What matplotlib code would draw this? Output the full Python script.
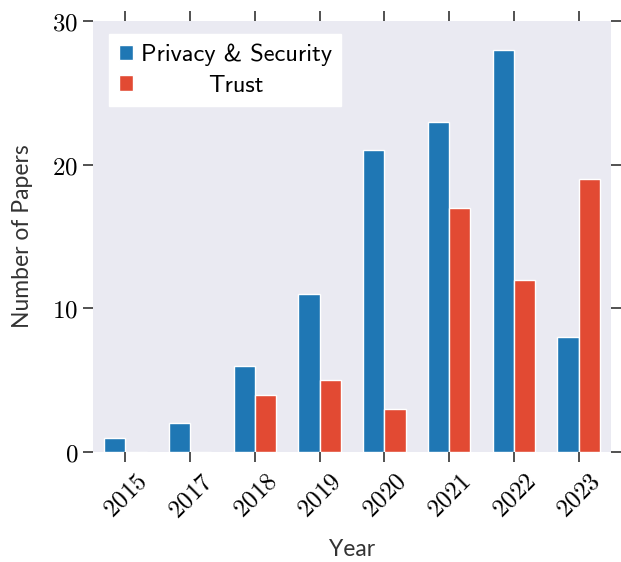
import matplotlib
matplotlib.use("Agg")
import matplotlib.pyplot as plt
from matplotlib.font_manager import FontProperties
import numpy as np
import os

years = ["2015", "2017", "2018", "2019", "2020", "2021", "2022", "2023"]
privacy_security = [1, 2, 6, 11, 21, 23, 28, 8]
trust = [0, 0, 4, 5, 3, 17, 12, 19]
yticks = [0, 10, 20, 30]

plt.rcParams['mathtext.fontset'] = 'cm'
ssfont = FontProperties(fname=os.path.join(matplotlib.get_data_path(), 'fonts', 'ttf', 'cmss10.ttf'), size=17.5)

fig = plt.figure(figsize=(6.21, 5.62), dpi=100)
ax = fig.add_axes([93/621, 1-452/562, (611-93)/621, (452-21)/562])
ax.set_facecolor('#EAEAF2')
x = np.arange(len(years))
w = 0.33
ax.bar(x - w/2, privacy_security, w, color='#1f77b4', edgecolor='white', linewidth=1, label='Privacy & Security')
ax.bar(x + w/2, trust, w, color='#E24A33', edgecolor='white', linewidth=1, label='Trust')

ax.set_xlim(-0.5, 7.5)
ax.set_ylim(0, 30)
ax.set_xticks(x)
ax.set_xticklabels([f'${y}$' for y in years], rotation=45, fontsize=18)
ax.set_yticks(yticks)
ax.set_yticklabels([f'${v}$' for v in yticks], fontsize=18)
for s in ax.spines.values():
    s.set_visible(False)
ax.tick_params(axis='both', which='both', direction='out', length=7.2, width=1.2, color='#333333',
               top=True, right=True, bottom=True, left=True, labeltop=False, labelright=False)
ax.tick_params(axis='x', pad=5)
ax.set_xlabel('Year', fontsize=16.5, family='Lato', color='#333333', labelpad=12)
ax.set_ylabel('Number of Papers', fontsize=16.5, family='Lato', color='#333333', labelpad=14)

leg = ax.legend(loc='upper left', prop=ssfont, frameon=True, fancybox=False, framealpha=1,
                facecolor='white', edgecolor='white', handlelength=0.6, handleheight=0.6,
                handletextpad=0.3, borderpad=0.4, labelspacing=0.35, borderaxespad=0,
                bbox_to_anchor=((109-93)/518, (452-34)/431))
fig.canvas.draw()
renderer = fig.canvas.get_renderer()
texts = leg.get_texts()
widths = [t.get_window_extent(renderer).width for t in texts]
maxw = max(widths)
for t, wd in zip(texts, widths):
    t.set_position(((maxw - wd) / 2, 0))

fig.savefig('out.png', dpi=100)
